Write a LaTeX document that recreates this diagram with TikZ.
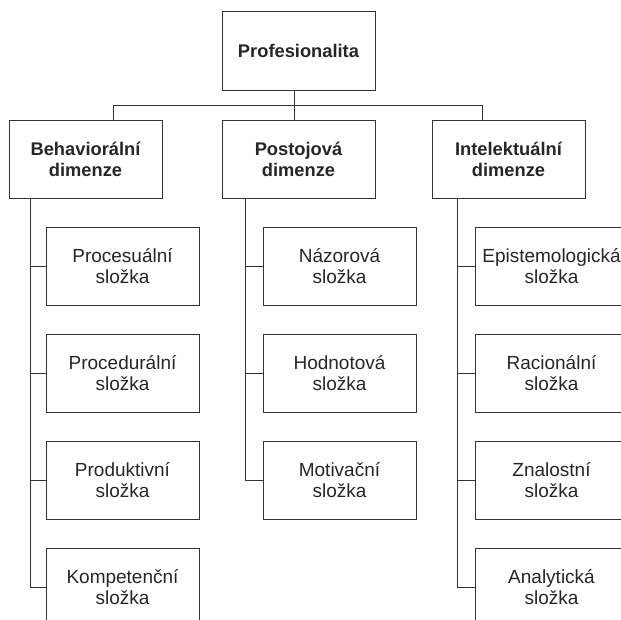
\documentclass[tikz,border=0pt]{standalone}
\usepackage{fontspec}
\setmainfont{Liberation Sans}
\usetikzlibrary{positioning}

\tikzset{
  box/.style={draw=black!80, line width=1pt, minimum width=153pt, minimum height=78.5pt,
    inner sep=0pt, align=center, text=black!85, font=\fontsize{19}{21}\selectfont},
  headbox/.style={box, font=\bfseries\fontsize{18.3}{20.5}\selectfont},
  link/.style={draw=black!80, line width=0.8pt}
}

\begin{document}
\begin{tikzpicture}[x=1pt, y=-1pt, node distance=27.5pt]
  \useasboundingbox (0,0) rectangle (621,620);
  % top and dimensions
  \node[headbox] (prof) at (298.5,51) {Profesionalita};
  \node[headbox] (beh) at (85.5,159.5) {Behaviorální\\dimenze};
  \node[headbox] (post) at (298.5,159.5) {Postojová\\dimenze};
  \node[headbox] (intel) at (508.5,159.5) {Intelektuální\\dimenze};

  % behavioral components
  \node[box] (proc) at (122.5,266.5) {Procesuální\\složka};
  \node[box, below=of proc] (proced) {Procedurální\\složka};
  \node[box, below=of proced] (prod) {Produktivní\\složka};
  \node[box, below=of prod] (komp) {Kompetenční\\složka};

  % attitude components
  \node[box] (naz) at (339.5,266.5) {Názorová\\složka};
  \node[box, below=of naz] (hodn) {Hodnotová\\složka};
  \node[box, below=of hodn] (motiv) {Motivační\\složka};

  % intellectual components
  \node[box] (epist) at (551.5,266.5) {Epistemologická\\složka};
  \node[box, below=of epist] (rac) {Racionální\\složka};
  \node[box, below=of rac] (znal) {Znalostní\\složka};
  \node[box, below=of znal] (anal) {Analytická\\složka};

  % connectors
  \coordinate (barL) at (113,105);
  \coordinate (barR) at (482,105);
  \coordinate (trunk) at (294,105);
  \coordinate (spineB) at (30,199);
  \coordinate (spineP) at (245.7,199);
  \coordinate (spineI) at (457.5,199);

  \draw[link] (prof.south -| trunk) -- (post.north -| trunk);
  \draw[link] (beh.north -| barL) -- (barL) -- (barR) -- (intel.north -| barR);

  \draw[link] (beh.south -| spineB) -- (spineB |- komp.west) -- (komp.west);
  \foreach \c in {proc, proced, prod}
    \draw[link] (spineB |- \c.west) -- (\c.west);

  \draw[link] (post.south -| spineP) -- (spineP |- motiv.west) -- (motiv.west);
  \foreach \c in {naz, hodn}
    \draw[link] (spineP |- \c.west) -- (\c.west);

  \draw[link] (intel.south -| spineI) -- (spineI |- anal.west) -- (anal.west);
  \foreach \c in {epist, rac, znal}
    \draw[link] (spineI |- \c.west) -- (\c.west);
\end{tikzpicture}
\end{document}
